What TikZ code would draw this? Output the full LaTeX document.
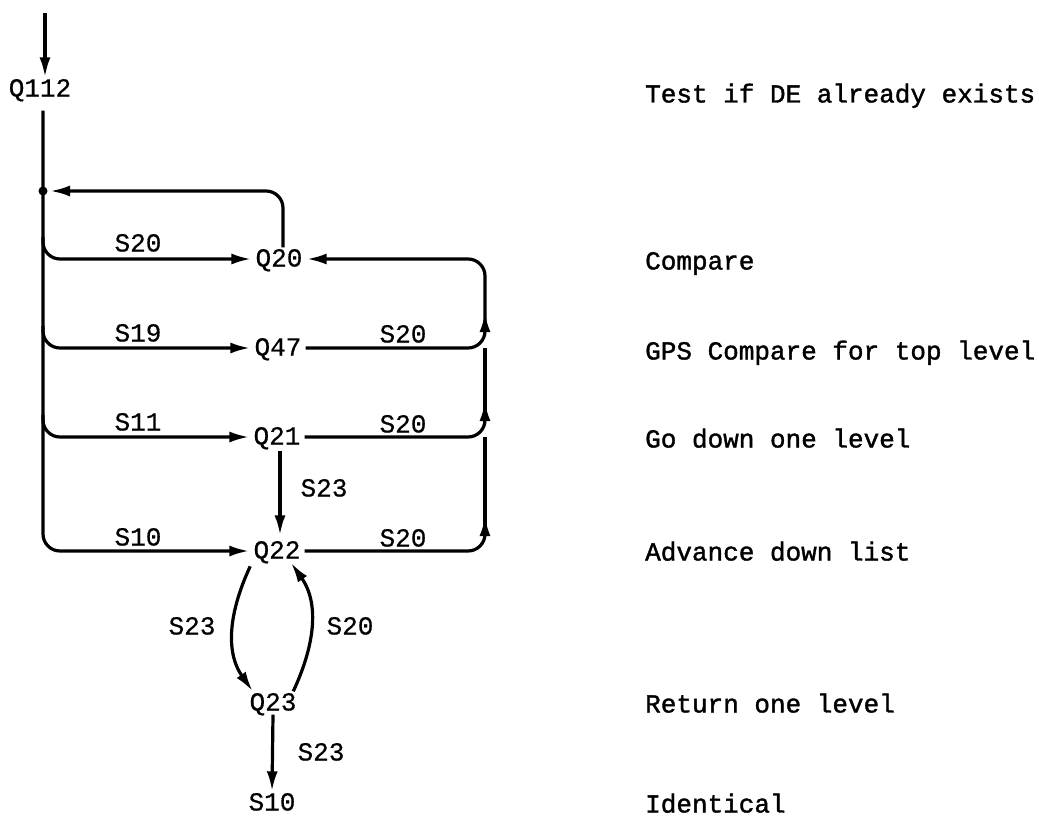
\documentclass[tikz,border=0pt]{standalone}
\usepackage{fontspec}
\setmainfont{Liberation Mono}[FakeBold=0.6]
\newfontfamily\notefont{Liberation Mono}[FakeBold=1.4]
\usetikzlibrary{arrows.meta,calc}
\begin{document}
\begin{tikzpicture}[x=1pt,y=1pt,
  font=\fontsize{26pt}{30pt}\selectfont,
  state/.style={inner sep=4pt,text height=15pt,text depth=0pt},
  lbl/.style={inner sep=0pt,text height=15pt,text depth=0pt},
  note/.style={inner sep=0pt,anchor=west,text height=15pt,text depth=0pt,
    font=\notefont\fontsize{26pt}{30pt}\selectfont},
  wire/.style={line width=3.2pt},
  flow/.style={wire,-{Latex[length=20pt,width=11pt]}},
  roundbend/.style={rounded corners=17pt}]
\useasboundingbox (0,0) rectangle (1039,-816);

% states
\node[state] (q112) at (40,-89) {Q112};
\node[state] (q20) at (279,-259) {Q20};
\node[state] (q47) at (278,-348) {Q47};
\node[state] (q21) at (277,-437) {Q21};
\node[state] (q22) at (277,-551) {Q22};
\node[state] (q23) at (273,-703) {Q23};
\node[state] (s10) at (272,-803) {S10};

% helper points: entry, trunk junction and right-hand rail
\coordinate (entry) at (45,-13);
\coordinate (j) at (43,-191);
\coordinate (rail) at (485,-400);

% entry arrow
\draw[flow] (entry) -- (entry |- q112.north);

% trunk down to Q22
\draw[flow,roundbend,shorten <=10pt] (q112.south -| j) -- (j |- q22) -- (q22.west);
% branches off the trunk
\draw[flow,roundbend] ($(j |- q20)+(0,22)$) -- (j |- q20) -- (q20.west);
\draw[flow,roundbend] ($(j |- q47)+(0,22)$) -- (j |- q47) -- (q47.west);
\draw[flow,roundbend] ($(j |- q21)+(0,22)$) -- (j |- q21) -- (q21.west);

% loop back from Q20 to the junction
\draw[flow,roundbend,shorten >=7pt] (q20.north -| 283,0) -- (283,-191) -- (j);
\fill (j) circle (4.5pt);

% right-hand rail back into Q20
\draw[flow,roundbend] (q22.east) -- (rail |- q22) -- ($(rail |- q22)+(0,35)$);
\draw[wire] ($(rail |- q22)+(0,20)$) -- (rail |- q21);
\draw[flow,roundbend] (q21.east) -- (rail |- q21) -- ($(rail |- q21)+(0,36)$);
\draw[wire] ($(rail |- q21)+(0,20)$) -- (rail |- q47);
\draw[flow,roundbend] (q47.east) -- (rail |- q47) -- ($(rail |- q47)+(0,36)$);
\draw[flow,roundbend] ($(rail |- q47)+(0,20)$) -- (rail |- q20) -- (q20.east);

% Q21 down to Q22
\draw[flow,shorten <=2pt,shorten >=4pt] (q21.south -| 280,0) -- (q22.north -| 280,0);

% Q22 <-> Q23
\draw[flow,shorten <=4pt] (q22.205) to[out=245,in=125] (q23.150);
\draw[flow] (q23.30) to[out=65,in=305] (q22.320);

% Q23 down to S10
\draw[flow] (q23.south) -- (s10.north);

% edge labels
\node[lbl] (l1) at (138,-244) {S20};
\node[lbl] (l2) at (138,-334) {S19};
\node[lbl] (l3) at (138,-423) {S11};
\node[lbl] (l4) at (138,-538) {S10};
\node[lbl] (l5) at (403,-335) {S20};
\node[lbl] (l6) at (403,-425) {S20};
\node[lbl] (l7) at (403,-539) {S20};
\node[lbl] (l8) at (324,-489) {S23};
\node[lbl] (l9) at (192,-627) {S23};
\node[lbl] (l10) at (350,-627) {S20};
\node[lbl] (l11) at (321,-753) {S23};

% descriptions
\node[note] (d1) at (645,-95) {Test if DE already exists};
\node[note] (d2) at (645,-262) {Compare};
\node[note] (d3) at (645,-352) {GPS Compare for top level};
\node[note] (d4) at (645,-440) {Go down one level};
\node[note] (d5) at (645,-553) {Advance down list};
\node[note] (d6) at (645,-705) {Return one level};
\node[note] (d7) at (645,-805) {Identical};
\end{tikzpicture}
\end{document}
